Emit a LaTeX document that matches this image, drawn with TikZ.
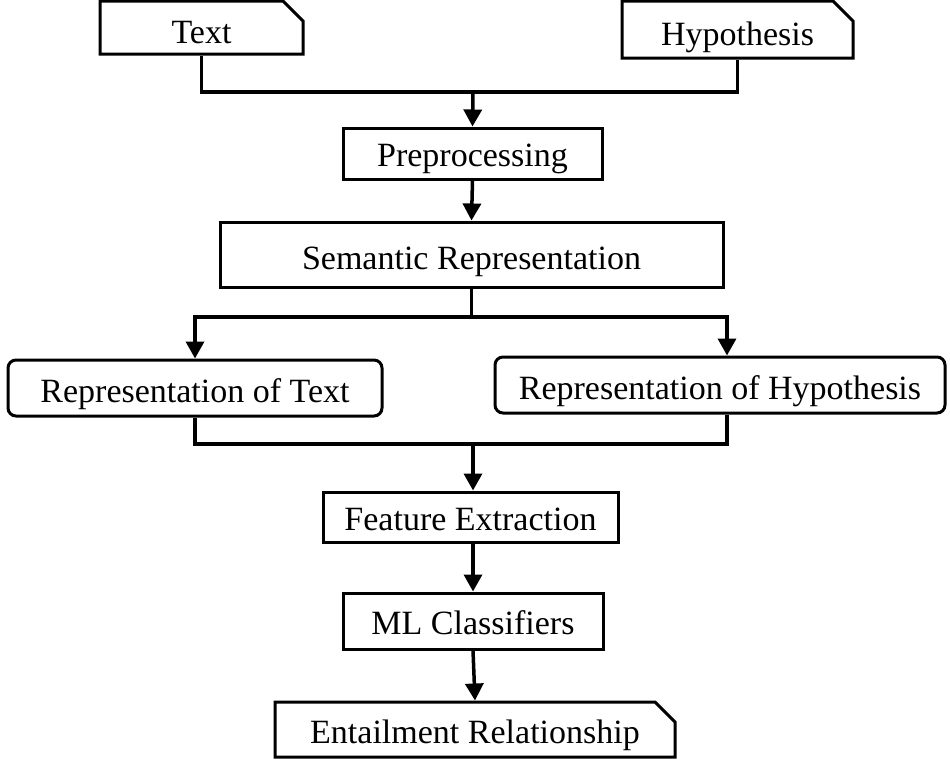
\documentclass[tikz,border=0pt]{standalone}
\usepackage{fontspec}
\setmainfont{Liberation Serif}
\usepackage{tikz}
\usetikzlibrary{shapes.misc}
\usetikzlibrary{arrows.meta}
\usetikzlibrary{calc}
\tikzset{line/.style={draw, line width=3.5pt, -{Triangle[length=17pt,width=18pt]}}}

\begin{document}
\begin{tikzpicture}[x=1pt, y=-1pt, font=\fontsize{34}{38}\selectfont,
			internal/.style={draw, rectangle, line width=3pt, inner sep=0pt, text height=28pt, text depth=0pt},
			snipped/.style={draw, chamfered rectangle, chamfered rectangle corners=north east, chamfered rectangle sep=10pt, line width=3pt, inner sep=0pt, text height=28pt, text depth=0pt},
			rounded/.style={internal, rounded corners=8pt},
			wire/.style={draw, line width=3.5pt}]
			\useasboundingbox (0,0) rectangle (950,761);
			
			\node[snipped, minimum width=203pt, minimum height=53pt, text height=31pt](txt) at (201.5, 27.5) {Text};
			\node[snipped, minimum width=231pt, minimum height=57pt, text height=31pt](hyp) at (737.5, 29.5) {Hypothesis};
			\coordinate (m1) at (473, 92);
			\draw[wire] (txt.south) |- (m1) -| (hyp.south);
			
			\node[internal, minimum width=259pt, minimum height=51pt, text height=25pt](pre) at (472.5, 153.5) {Preprocessing};
			\draw[line] (m1) -- (pre.north);
			
			\node[internal, minimum width=503pt, minimum height=65pt, text height=30pt](sem) at (471.5, 254.5) {Semantic Representation};
			\draw[line] (pre.south) -- (sem.north);
			
			\node[rounded, minimum width=374pt, minimum height=56pt](reptxt) at (195, 388) {Representation of Text};
			\node[rounded, minimum width=450pt, minimum height=56pt](rephyp) at (720, 385) {Representation of Hypothesis};
			\coordinate (m2) at (473, 317);
			\draw[wire] (sem.south) |- (m2);
			\draw[line] (m2) -| (reptxt.north);
			\draw[line] (m2) -| ($(rephyp.north)+(7,0)$);
			
			\node[internal, minimum width=295pt, minimum height=50pt, text height=26pt](feat) at (470.5, 517) {Feature Extraction};
			\coordinate (m3) at (473, 444);
			\draw[wire] (reptxt.south) |- (m3) -| ($(rephyp.south)+(7,0)$);
			\draw[line] (m3) -- (feat.north -| m3);
			
			\node[internal, minimum width=260pt, minimum height=56pt, text height=26pt](ml) at (473, 621) {ML Classifiers};
			\draw[line] (feat.south -| m3) -- (ml.north);
			
			\node[snipped, minimum width=400pt, minimum height=55pt](ent) at (475, 729.5) {Entailment Relationship};
			\draw[line] (ml.south) -- (ent.north);
		\end{tikzpicture}
\end{document}
